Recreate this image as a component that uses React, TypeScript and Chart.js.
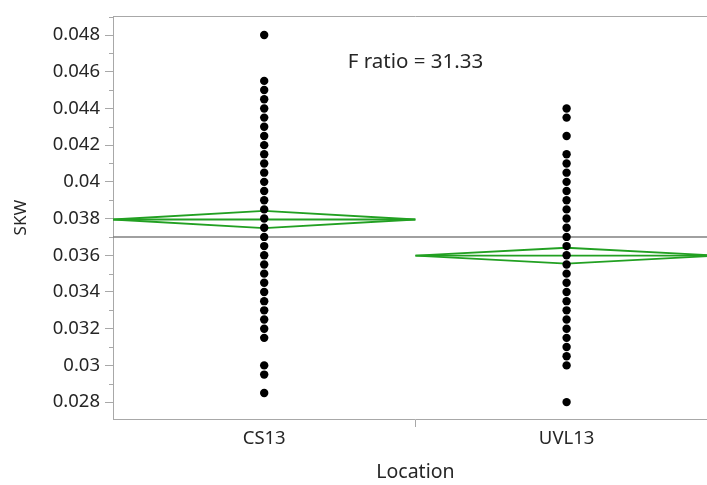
import React, { useEffect, useRef } from 'react';
import { Chart, registerables } from 'chart.js';

Chart.register(...registerables);

// ---------- data ----------
const categories = ['CS13', 'UVL13'];

const cs13Values = [
  0.048, 0.0455, 0.045, 0.0445, 0.044, 0.0435, 0.043, 0.0425, 0.042, 0.0415,
  0.041, 0.0405, 0.04, 0.0395, 0.039, 0.0385, 0.038, 0.0375, 0.037, 0.0365,
  0.036, 0.0355, 0.035, 0.0345, 0.034, 0.0335, 0.033, 0.0325, 0.032, 0.0315,
  0.03, 0.0295, 0.0285,
];

const uvl13Values = [
  0.044, 0.0435, 0.0425, 0.0415, 0.041, 0.0405, 0.04, 0.0395, 0.039, 0.0385,
  0.038, 0.0375, 0.037, 0.0365, 0.036, 0.0355, 0.035, 0.0345, 0.034, 0.0335,
  0.033, 0.0325, 0.032, 0.0315, 0.031, 0.0305, 0.03, 0.028,
];

const groupMeans = [0.03795, 0.03598];
const ciHalfWidths = [0.00047, 0.00043];
const grandMean = 0.037;

const yMajorTicks = [0.028, 0.03, 0.032, 0.034, 0.036, 0.038, 0.04, 0.042, 0.044, 0.046, 0.048];
const yTickLabels = ['0.028', '0.03', '0.032', '0.034', '0.036', '0.038', '0.04', '0.042', '0.044', '0.046', '0.048'];
const yMinorTicks = [0.027, 0.029, 0.031, 0.033, 0.035, 0.037, 0.039, 0.041, 0.043, 0.045, 0.047, 0.049];
const yMin = 0.02708;
const yMax = 0.04903;

const fRatioText = 'F ratio = 31.33';
const fRatioY = 0.0465;
const xTitle = 'Location';
const yTitle = 'SKW';

// ---------- styles ----------
const AXIS_GRAY = '#a8a8a8';
const TEXT = '#262626';
const GREEN = '#22a022';
const FONT = '"Noto Sans", "Open Sans", sans-serif';
const TICK_SIZE = 18.5;
const XTITLE_SIZE = 19.5;
const YTITLE_SIZE = 17;
const NOTE_SIZE = 20.5;

const near = (a: number, b: number) => Math.abs(a - b) < 1e-7;

export default function App() {
  const ref = useRef<HTMLCanvasElement>(null);

  useEffect(() => {
    const canvas = ref.current;
    if (!canvas) return;

    const groups = [cs13Values, uvl13Values];
    const dotData = groups.flatMap((vals, i) => vals.map((v) => ({ x: i, y: v })));

    const diamondSets = categories.map((c, i) => ({
      label: c + ' diamond',
      data: [
        { x: i - 0.5, y: groupMeans[i] },
        { x: i, y: groupMeans[i] + ciHalfWidths[i] },
        { x: i + 0.5, y: groupMeans[i] },
        { x: i, y: groupMeans[i] - ciHalfWidths[i] },
        { x: i - 0.5, y: groupMeans[i] },
      ],
      showLine: true,
      borderColor: GREEN,
      borderWidth: 1.8,
      pointRadius: 0,
      fill: false,
      order: 2,
    }));

    const meanSets = categories.map((c, i) => ({
      label: c + ' mean',
      data: [
        { x: i - 0.5, y: groupMeans[i] },
        { x: i + 0.5, y: groupMeans[i] },
      ],
      showLine: true,
      borderColor: GREEN,
      borderWidth: 1.8,
      pointRadius: 0,
      fill: false,
      order: 2,
    }));

    const grandSet = {
      label: 'grand mean',
      data: [
        { x: -0.5, y: grandMean },
        { x: categories.length - 0.5, y: grandMean },
      ],
      showLine: true,
      borderColor: '#808080',
      borderWidth: 1.5,
      pointRadius: 0,
      fill: false,
      order: 3,
    };

    const dotSet = {
      label: 'SKW',
      data: dotData,
      pointRadius: 4.2,
      pointBackgroundColor: '#000',
      pointBorderWidth: 0,
      showLine: false,
      order: 0,
    };

    const xTickPositions = categories.flatMap((_, i) => (i === 0 ? [i] : [i - 0.5, i]));

    const extras = {
      id: 'extras',
      afterDraw(chart: any) {
        const { ctx, chartArea, scales } = chart;
        const ys = scales.y;
        const xs = scales.x;
        ctx.save();
        ctx.strokeStyle = AXIS_GRAY;
        ctx.lineWidth = 1;
        ctx.beginPath();
        ctx.moveTo(chartArea.left, Math.round(chartArea.top) + 0.5);
        ctx.lineTo(chartArea.right, Math.round(chartArea.top) + 0.5);
        ctx.stroke();
        yMinorTicks.forEach((v) => {
          const py = Math.round(ys.getPixelForValue(v)) + 0.5;
          if (py < chartArea.top - 1 || py > chartArea.bottom - 1) return;
          ctx.beginPath();
          ctx.moveTo(chartArea.left - 4, py);
          ctx.lineTo(chartArea.left, py);
          ctx.stroke();
        });
        ctx.fillStyle = TEXT;
        ctx.font = `${NOTE_SIZE}px ${FONT}`;
        ctx.textAlign = 'center';
        ctx.textBaseline = 'middle';
        ctx.fillText(fRatioText, xs.getPixelForValue(0.5), ys.getPixelForValue(fRatioY));
        ctx.restore();
      },
    };

    const chart = new Chart(canvas, {
      type: 'scatter',
      data: { datasets: [dotSet, ...diamondSets, ...meanSets, grandSet] as any },
      options: {
        responsive: false,
        animation: false,
        devicePixelRatio: 1,
        layout: { padding: { top: 15, right: 4, left: 0, bottom: 0 } },
        plugins: { legend: { display: false }, tooltip: { enabled: false } },
        scales: {
          x: {
            type: 'linear',
            min: -0.5,
            max: categories.length - 0.5,
            afterBuildTicks: (s: any) => {
              s.ticks = xTickPositions.map((v) => ({ value: v }));
            },
            afterFit: (s: any) => {
              s.height = 66;
            },
            ticks: {
              autoSkip: false,
              maxRotation: 0,
              color: TEXT,
              padding: 1,
              font: { family: FONT, size: TICK_SIZE },
              callback: (v: any) => (Number.isInteger(v) ? categories[v] : ''),
            },
            grid: {
              drawOnChartArea: false,
              tickLength: 8,
              tickColor: (ctx: any) => (ctx.tick && near(ctx.tick.value % 1, 0.5) ? AXIS_GRAY : 'rgba(0,0,0,0)'),
            },
            border: { color: AXIS_GRAY, width: 1 },
            title: {
              display: true,
              text: xTitle,
              color: TEXT,
              font: { family: FONT, size: XTITLE_SIZE },
              padding: { top: 0, bottom: 1 },
            },
          },
          y: {
            type: 'linear',
            min: yMin,
            max: yMax,
            afterBuildTicks: (s: any) => {
              s.ticks = yMajorTicks.map((v) => ({ value: v }));
            },
            afterFit: (s: any) => {
              s.width = 113;
            },
            ticks: {
              autoSkip: false,
              color: TEXT,
              padding: 5,
              font: { family: FONT, size: TICK_SIZE },
              callback: (_v: any, i: number) => yTickLabels[i],
            },
            grid: { drawOnChartArea: false, tickLength: 8, tickColor: AXIS_GRAY },
            border: { color: AXIS_GRAY, width: 1 },
            title: {
              display: true,
              text: yTitle,
              color: TEXT,
              font: { family: FONT, size: YTITLE_SIZE },
              padding: { top: 11, bottom: 0 },
            },
          },
        },
      },
      plugins: [extras],
    } as any);

    return () => chart.destroy();
  }, []);

  return (
    <div style={{ position: 'absolute', left: 0, top: 0, width: 707, height: 485, overflow: 'hidden', background: '#fff' }}>
      <canvas ref={ref} width={722} height={485} style={{ display: 'block', width: 722, height: 485 }} />
    </div>
  );
}
